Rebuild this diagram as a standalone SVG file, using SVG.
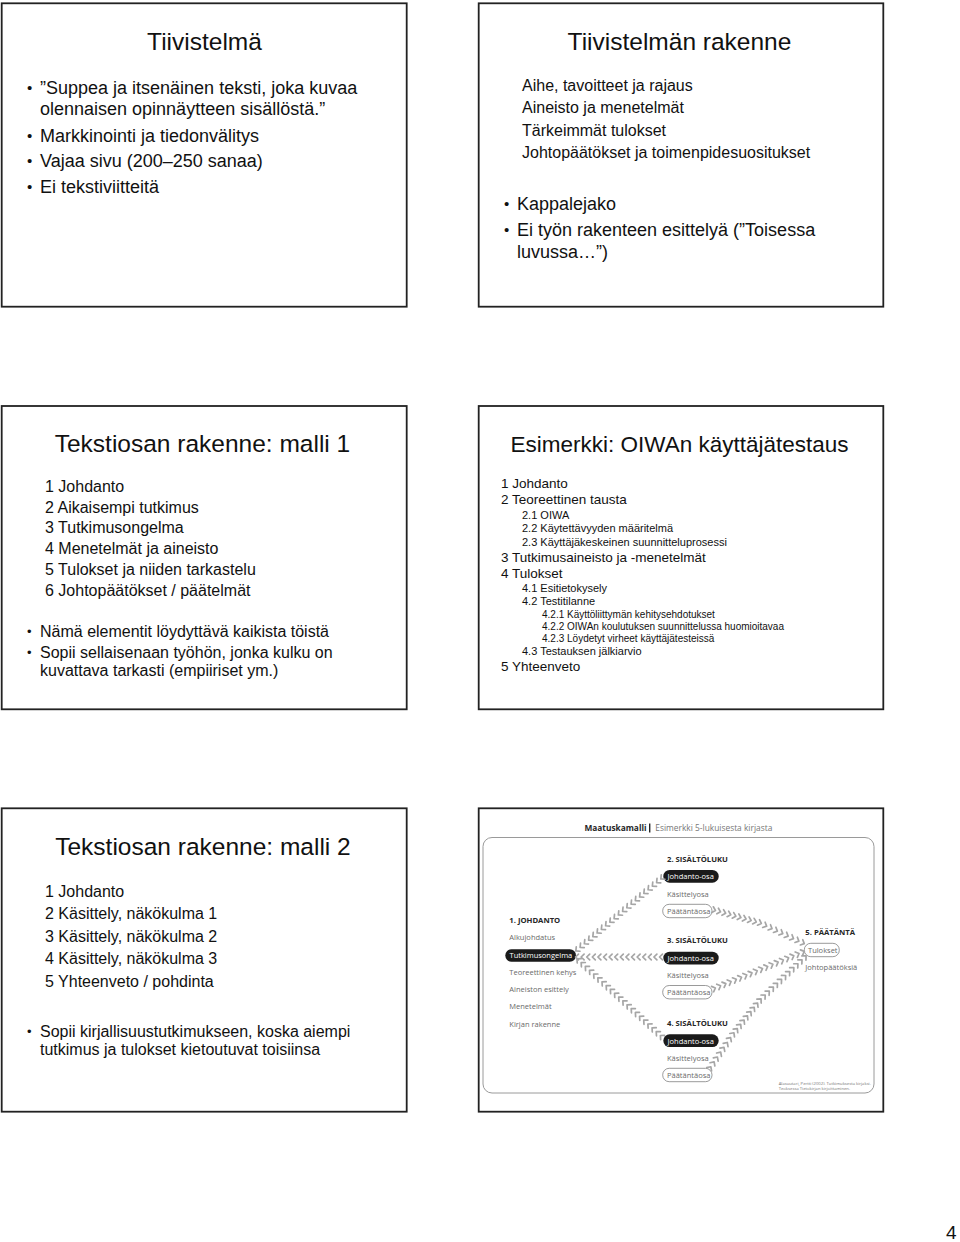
<svg xmlns="http://www.w3.org/2000/svg" width="960" height="1242" viewBox="0 0 960 1242">
<defs>
<style>
.frame{fill:#fff;stroke:#222;stroke-width:1.8}
.t{font-family:"Liberation Sans",Arial,sans-serif;fill:#111}
.title{font-size:24.5px;text-anchor:middle}
.b18{font-size:18px}
.b16{font-size:16px}
.s13{font-size:13.5px}
.s11{font-size:11px}
.s10{font-size:10px}
.m{font-family:"Open Sans","Noto Sans",sans-serif}
.hd{font-size:7.7px;font-weight:bold;fill:#262626}
.it{font-size:7.5px;fill:#6a6a6a}
.pt{font-size:7.5px;fill:#fff}
.op{font-size:7.5px;fill:#6a6a6a}
.pill{fill:#1a1a1a}
.opill{fill:#fff;stroke:#808080;stroke-width:0.8}
.chev{fill:none;stroke:none;marker-start:url(#chev);marker-mid:url(#chev);marker-end:url(#chev)}
</style>
<marker id="chev" markerUnits="userSpaceOnUse" markerWidth="10" markerHeight="10" viewBox="-5 -5 10 10" refX="0" refY="0" orient="auto" overflow="visible">
<path d="M-1.5 -2.9 L1.5 0 L-1.5 2.9" fill="none" stroke="#a6a6a6" stroke-width="1.7" stroke-linecap="round" stroke-linejoin="round"/>
</marker>
</defs>
<rect width="960" height="1242" fill="#fff"/>

<g id="slide-tiivistelma">
<rect class="frame" x="1.7" y="3.3" width="405" height="303.4"/>
<text class="t title" x="204.5" y="50">Tiivistelmä</text>
<text class="t" x="27" y="93" font-size="15">•</text>
<text class="t b18" x="40" y="94">”Suppea ja itsenäinen teksti, joka kuvaa</text>
<text class="t b18" x="40" y="115">olennaisen opinnäytteen sisällöstä.”</text>
<text class="t" x="27" y="141" font-size="15">•</text>
<text class="t b18" x="40" y="142">Markkinointi ja tiedonvälitys</text>
<text class="t" x="27" y="166" font-size="15">•</text>
<text class="t b18" x="40" y="167">Vajaa sivu (200–250 sanaa)</text>
<text class="t" x="27" y="192" font-size="15">•</text>
<text class="t b18" x="40" y="193">Ei tekstiviitteitä</text>
</g>

<g id="slide-rakenne">
<rect class="frame" x="478.7" y="3.3" width="404.6" height="303.4"/>
<text class="t title" x="679.5" y="50">Tiivistelmän rakenne</text>
<text class="t b16" x="522" y="91">Aihe, tavoitteet ja rajaus</text>
<text class="t b16" x="522" y="113">Aineisto ja menetelmät</text>
<text class="t b16" x="522" y="136">Tärkeimmät tulokset</text>
<text class="t b16" x="522" y="158">Johtopäätökset ja toimenpidesuositukset</text>
<text class="t" x="504" y="209" font-size="15">•</text>
<text class="t b18" x="517" y="210">Kappalejako</text>
<text class="t" x="504" y="235" font-size="15">•</text>
<text class="t b18" x="517" y="236">Ei työn rakenteen esittelyä (”Toisessa</text>
<text class="t b18" x="517" y="258">luvussa…”)</text>
</g>

<g id="slide-malli1">
<rect class="frame" x="1.7" y="406" width="405" height="303.3"/>
<text class="t title" x="202.5" y="452">Tekstiosan rakenne: malli 1</text>
<text class="t b16" x="45" y="492">1 Johdanto</text>
<text class="t b16" x="45" y="513">2 Aikaisempi tutkimus</text>
<text class="t b16" x="45" y="533">3 Tutkimusongelma</text>
<text class="t b16" x="45" y="554">4 Menetelmät ja aineisto</text>
<text class="t b16" x="45" y="575">5 Tulokset ja niiden tarkastelu</text>
<text class="t b16" x="45" y="596">6 Johtopäätökset / päätelmät</text>
<text class="t" x="27" y="636" font-size="13">•</text>
<text class="t b16" x="40" y="637">Nämä elementit löydyttävä kaikista töistä</text>
<text class="t" x="27" y="657" font-size="13">•</text>
<text class="t b16" x="40" y="658">Sopii sellaisenaan työhön, jonka kulku on</text>
<text class="t b16" x="40" y="675.5">kuvattava tarkasti (empiiriset ym.)</text>
</g>

<g id="slide-esimerkki">
<rect class="frame" x="478.7" y="406" width="404.6" height="303.3"/>
<text class="t" x="679.5" y="452" font-size="22.5" text-anchor="middle">Esimerkki: OIWAn käyttäjätestaus</text>
<text class="t s13" x="501" y="488">1 Johdanto</text>
<text class="t s13" x="501" y="504">2 Teoreettinen tausta</text>
<text class="t s11" x="522" y="519">2.1 OIWA</text>
<text class="t s11" x="522" y="532">2.2 Käytettävyyden määritelmä</text>
<text class="t s11" x="522" y="546">2.3 Käyttäjäkeskeinen suunnitteluprosessi</text>
<text class="t s13" x="501" y="562">3 Tutkimusaineisto ja -menetelmät</text>
<text class="t s13" x="501" y="578">4 Tulokset</text>
<text class="t s11" x="522" y="592">4.1 Esitietokysely</text>
<text class="t s11" x="522" y="605">4.2 Testitilanne</text>
<text class="t s10" x="542" y="618">4.2.1 Käyttöliittymän kehitysehdotukset</text>
<text class="t s10" x="542" y="630">4.2.2 OIWAn koulutuksen suunnittelussa huomioitavaa</text>
<text class="t s10" x="542" y="642">4.2.3 Löydetyt virheet käyttäjätesteissä</text>
<text class="t s11" x="522" y="655">4.3 Testauksen jälkiarvio</text>
<text class="t s13" x="501" y="671">5 Yhteenveto</text>
</g>

<g id="slide-malli2">
<rect class="frame" x="1.7" y="808.3" width="405" height="303.4"/>
<text class="t title" x="203" y="855">Tekstiosan rakenne: malli 2</text>
<text class="t b16" x="45" y="897">1 Johdanto</text>
<text class="t b16" x="45" y="919">2 Käsittely, näkökulma 1</text>
<text class="t b16" x="45" y="942">3 Käsittely, näkökulma 2</text>
<text class="t b16" x="45" y="964">4 Käsittely, näkökulma 3</text>
<text class="t b16" x="45" y="987">5 Yhteenveto / pohdinta</text>
<text class="t" x="27" y="1036" font-size="13">•</text>
<text class="t b16" x="40" y="1037">Sopii kirjallisuustutkimukseen, koska aiempi</text>
<text class="t b16" x="40" y="1055">tutkimus ja tulokset kietoutuvat toisiinsa</text>
</g>

<g id="slide-maatuskamalli">
<rect class="frame" x="478.7" y="808.3" width="404.6" height="303.4"/>
<text class="m" x="584.5" y="831" font-size="9.2" font-weight="bold" fill="#262626" textLength="62" lengthAdjust="spacingAndGlyphs">Maatuskamalli</text>
<rect x="649" y="823.5" width="1.4" height="9" fill="#262626"/>
<text class="m" x="655.3" y="831" font-size="8.8" fill="#777" textLength="117" lengthAdjust="spacingAndGlyphs">Esimerkki 5-lukuisesta kirjasta</text>
<rect x="483" y="837.5" width="391" height="255.5" rx="9" fill="none" stroke="#9a9a9a" stroke-width="1"/>

<g id="node-johdanto">
<text class="m hd" x="509.3" y="922.7">1. JOHDANTO</text>
<text class="m it" x="509.3" y="940">Alkujohdatus</text>
<rect class="pill" x="505.3" y="949.3" width="70.7" height="12.4" rx="6.2"/>
<text class="m pt" x="509.5" y="958.4">Tutkimusongelma</text>
<text class="m it" x="509.3" y="975">Teoreettinen kehys</text>
<text class="m it" x="509.3" y="992.3">Aineiston esittely</text>
<text class="m it" x="509.3" y="1009">Menetelmät</text>
<text class="m it" x="509.3" y="1026.7">Kirjan rakenne</text>
</g>

<g id="node-luku2">
<text class="m hd" x="667" y="862">2. SISÄLTÖLUKU</text>
<rect class="pill" x="663.3" y="870" width="55.4" height="12.7" rx="6.3"/>
<text class="m pt" x="667.5" y="879.3">Johdanto-osa</text>
<text class="m it" x="667" y="896.7">Käsittelyosa</text>
<rect class="opill" x="662.7" y="904.3" width="49.3" height="13.4" rx="6.5"/>
<text class="m op" x="667" y="913.6">Päätäntäosa</text>
</g>

<g id="node-luku3">
<text class="m hd" x="667" y="943.3">3. SISÄLTÖLUKU</text>
<rect class="pill" x="663.3" y="951.7" width="55.4" height="12.7" rx="6.3"/>
<text class="m pt" x="667.5" y="961">Johdanto-osa</text>
<text class="m it" x="667" y="977.7">Käsittelyosa</text>
<rect class="opill" x="662.7" y="985.5" width="49.3" height="13.4" rx="6.5"/>
<text class="m op" x="667" y="994.8">Päätäntäosa</text>
</g>

<g id="node-luku4">
<text class="m hd" x="667" y="1025.7">4. SISÄLTÖLUKU</text>
<rect class="pill" x="663.3" y="1034.3" width="55.4" height="12.7" rx="6.3"/>
<text class="m pt" x="667.5" y="1043.6">Johdanto-osa</text>
<text class="m it" x="667" y="1060.7">Käsittelyosa</text>
<rect class="opill" x="662.7" y="1068.3" width="49.3" height="13.4" rx="6.5"/>
<text class="m op" x="667" y="1077.6">Päätäntäosa</text>
</g>

<g id="node-paatanta">
<text class="m hd" x="805.3" y="935">5. PÄÄTÄNTÄ</text>
<rect class="opill" x="804.3" y="943.3" width="35" height="13.4" rx="6.5"/>
<text class="m op" x="808" y="952.6">Tulokset</text>
<text class="m it" x="805.3" y="970">Johtopäätöksiä</text>
</g>

<g id="connectors">
<path class="chev" d="M661 957 h-5.6 h-5.6 h-5.6 h-5.6 h-5.6 h-5.6 h-5.6 h-5.6 h-5.6 h-5.6 h-5.6 h-5.6 h-5.6 h-5.6 h-5.6"/>
<path class="chev" d="M662 878 l-4.25 3.6 l-4.25 3.6 l-4.25 3.6 l-4.25 3.6 l-4.25 3.6 l-4.25 3.6 l-4.25 3.6 l-4.25 3.6 l-4.25 3.6 l-4.25 3.6 l-4.25 3.6 l-4.25 3.6 l-4.25 3.6 l-4.25 3.6 l-4.25 3.6 l-4.25 3.6 l-4.25 3.6 l-4.25 3.6 l-4.25 3.6 l-4.25 3.6"/>
<path class="chev" d="M661.5 1036.5 l-4.17 -3.835 l-4.17 -3.835 l-4.17 -3.835 l-4.17 -3.835 l-4.17 -3.835 l-4.17 -3.835 l-4.17 -3.835 l-4.17 -3.835 l-4.17 -3.835 l-4.17 -3.835 l-4.17 -3.835 l-4.17 -3.835 l-4.17 -3.835 l-4.17 -3.835 l-4.17 -3.835 l-4.17 -3.835 l-4.17 -3.835 l-4.17 -3.835 l-4.17 -3.835 l-4.17 -3.835"/>
<path class="chev" d="M714 910 l5.1 1.44 l5.1 1.44 l5.1 1.44 l5.1 1.44 l5.1 1.44 l5.1 1.44 l5.1 1.44 l5.1 1.44 l5.1 1.44 l5.375 2.5 l5.375 2.5 l5.375 2.5 l5.375 2.5 l5.375 2.5 l5.375 2.5 l5.375 2.5 l5.375 2.5"/>
<path class="chev" d="M714 988.5 l5.23 -2.15 l5.23 -2.15 l5.23 -2.15 l5.23 -2.15 l5.23 -2.15 l5.23 -2.15 l5.23 -2.15 l5.23 -2.15 l5.23 -2.15 l5.23 -2.15 l5.23 -2.15 l5.23 -2.15 l5.23 -2.15 l5.23 -2.15 l5.23 -2.15 l5.23 -2.15 l5.23 -2.15"/>
<path class="chev" d="M710 1068 l3.29 -4.86 l3.29 -4.86 l3.29 -4.86 l3.29 -4.86 l3.29 -4.86 l3.29 -4.86 l3.29 -4.86 l3.375 -4.25 l3.375 -4.25 l3.375 -4.25 l3.375 -4.25 l3.375 -4.25 l3.375 -4.25 l3.375 -4.25 l3.375 -4.25 l4.09 -3.91 l4.09 -3.91 l4.09 -3.91 l4.09 -3.91 l4.09 -3.91 l4.09 -3.91 l4.09 -3.91 l4.09 -3.91 l4.09 -3.91 l4.09 -3.91 l4.09 -3.91"/>
</g>

<text class="m" x="778.7" y="1084.5" font-size="4.2" fill="#777">Alasuutari, Pertti (2002). Tutkimuksesta kirjaksi.</text>
<text class="m" x="778.7" y="1089.8" font-size="4.2" fill="#777">Teoksessa Tietokirjan kirjoittaminen.</text>
</g>

<text id="page-number" class="t" x="946" y="1239" font-size="19">4</text>
</svg>
